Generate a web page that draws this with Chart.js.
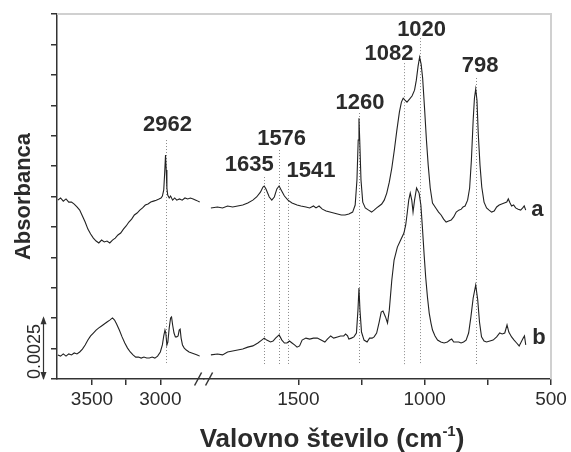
<!DOCTYPE html>
<html>
<head>
<meta charset="utf-8">
<title>IR spektra</title>
<script src="https://cdn.jsdelivr.net/npm/chart.js@4.4.0/dist/chart.umd.min.js"></script>
<style>
  html, body { margin: 0; padding: 0; background: #fff; }
  canvas { display: block; }
</style>
</head>
<body>
<canvas id="spectra" width="571" height="452"></canvas>
<script>
// absorbance in units of 0.001 (curve a is shifted up for display)

// high wavenumber region, 3750-2700 cm-1
const hiWnA = [3750, 3730, 3710, 3690, 3670, 3650, 3630, 3610, 3590, 3570, 3550, 3530, 3510, 3490, 3470, 3450, 3430, 3410, 3390, 3370, 3350, 3330, 3310, 3290, 3270, 3250, 3230, 3210, 3190, 3170, 3150, 3130, 3110, 3090, 3070, 3050, 3030, 3010, 2995, 2985, 2975, 2968, 2962, 2957, 2952, 2946, 2935, 2925, 2910, 2895, 2880, 2860, 2840, 2820, 2800, 2780, 2760, 2740, 2725, 2712];
const hiA = [7.35, 7.44, 7.31, 7.40, 7.27, 7.27, 7.19, 7.07, 6.94, 6.70, 6.45, 6.16, 5.96, 5.79, 5.67, 5.59, 5.71, 5.63, 5.67, 5.59, 5.71, 5.79, 5.92, 6.00, 6.16, 6.29, 6.45, 6.57, 6.74, 6.82, 6.94, 7.03, 7.15, 7.19, 7.27, 7.31, 7.35, 7.40, 7.44, 7.52, 7.77, 8.50, 9.20, 8.59, 7.85, 7.56, 7.44, 7.52, 7.35, 7.44, 7.35, 7.40, 7.35, 7.44, 7.40, 7.44, 7.40, 7.35, 7.31, 7.27];

const hiWnB = [3750, 3730, 3710, 3690, 3670, 3650, 3630, 3610, 3590, 3570, 3550, 3530, 3510, 3490, 3470, 3450, 3430, 3410, 3390, 3370, 3350, 3335, 3320, 3300, 3280, 3260, 3240, 3220, 3200, 3180, 3160, 3140, 3120, 3100, 3080, 3060, 3040, 3020, 3000, 2985, 2975, 2966, 2960, 2952, 2945, 2935, 2925, 2918, 2910, 2900, 2890, 2880, 2870, 2862, 2855, 2848, 2838, 2825, 2810, 2790, 2770, 2750, 2730, 2712];
const hiB = [0.99, 0.94, 1.03, 0.94, 1.03, 0.99, 1.07, 1.03, 1.11, 1.23, 1.40, 1.60, 1.77, 1.89, 2.01, 2.10, 2.18, 2.26, 2.34, 2.42, 2.51, 2.42, 2.26, 2.01, 1.73, 1.48, 1.27, 1.11, 0.99, 0.90, 0.90, 0.86, 0.90, 0.86, 0.86, 0.90, 0.86, 0.94, 1.11, 1.40, 1.77, 2.01, 1.89, 1.40, 1.52, 2.10, 2.51, 2.55, 2.22, 1.89, 1.73, 1.73, 1.77, 2.01, 2.05, 1.68, 1.40, 1.27, 1.19, 1.11, 1.07, 1.03, 0.99, 0.94];

// fingerprint region, 1846-600 cm-1
const loWnA = [1846, 1820, 1800, 1780, 1760, 1740, 1720, 1700, 1680, 1665, 1650, 1640, 1635, 1628, 1615, 1605, 1595, 1585, 1576, 1568, 1555, 1541, 1525, 1505, 1490, 1470, 1455, 1440, 1430, 1418, 1405, 1390, 1375, 1360, 1345, 1330, 1315, 1300, 1285, 1275, 1268, 1263, 1260, 1257, 1252, 1245, 1235, 1222, 1210, 1200, 1190, 1180, 1170, 1160, 1150, 1140, 1130, 1120, 1110, 1100, 1092, 1085, 1078, 1070, 1060, 1050, 1040, 1033, 1026, 1020, 1014, 1008, 1000, 993, 986, 978, 969, 956, 945, 935, 925, 915, 905, 895, 885, 875, 865, 855, 848, 840, 830, 822, 815, 808, 803, 798, 793, 788, 781, 774, 765, 755, 745, 735, 725, 715, 705, 695, 685, 675, 669, 662, 656, 648, 640, 630, 620, 612, 606, 600];
const loA = [7.03, 7.07, 7.03, 7.11, 7.07, 7.11, 7.15, 7.23, 7.35, 7.48, 7.68, 7.89, 7.93, 7.81, 7.48, 7.35, 7.48, 7.81, 7.93, 7.77, 7.52, 7.35, 7.23, 7.15, 7.11, 7.07, 7.03, 7.11, 7.03, 7.11, 6.98, 6.90, 6.86, 6.82, 6.78, 6.74, 6.74, 6.78, 6.86, 7.15, 8.18, 9.82, 10.72, 9.82, 8.18, 7.27, 7.03, 6.94, 6.86, 6.94, 7.03, 7.11, 7.19, 7.35, 7.64, 8.09, 8.67, 9.41, 10.23, 10.97, 11.38, 11.54, 11.46, 11.38, 11.50, 11.63, 11.87, 12.28, 12.86, 13.23, 12.94, 12.37, 11.05, 9.82, 8.79, 7.85, 7.23, 7.03, 6.86, 6.74, 6.57, 6.45, 6.49, 6.53, 6.66, 6.86, 6.94, 6.98, 7.07, 7.11, 7.35, 7.85, 9.00, 10.64, 11.54, 11.91, 11.46, 10.11, 8.79, 7.89, 7.27, 7.03, 6.94, 6.86, 6.90, 7.07, 7.15, 7.19, 7.23, 7.27, 7.40, 7.23, 7.11, 7.15, 7.03, 6.98, 6.94, 7.03, 7.11, 6.94];

const loWnB = [1846, 1820, 1800, 1780, 1760, 1740, 1720, 1700, 1680, 1660, 1645, 1635, 1625, 1610, 1600, 1590, 1576, 1565, 1555, 1545, 1535, 1525, 1515, 1505, 1495, 1485, 1470, 1455, 1440, 1425, 1410, 1395, 1385, 1372, 1360, 1345, 1333, 1320, 1313, 1305, 1300, 1290, 1280, 1270, 1264, 1260, 1256, 1250, 1240, 1228, 1218, 1208, 1200, 1190, 1180, 1172, 1165, 1155, 1147, 1140, 1130, 1121, 1108, 1095, 1082, 1075, 1069, 1063, 1057, 1051, 1046, 1040, 1032, 1022, 1015, 1009, 1002, 996, 989, 982, 975, 969, 959, 949, 936, 923, 910, 900, 893, 885, 875, 865, 856, 846, 836, 826, 817, 808, 798, 790, 783, 775, 765, 755, 742, 729, 715, 703, 693, 683, 674, 667, 656, 646, 636, 626, 618, 610, 605, 600];
const loB = [0.99, 1.03, 0.99, 1.11, 1.15, 1.19, 1.23, 1.31, 1.36, 1.48, 1.60, 1.68, 1.60, 1.52, 1.56, 1.68, 1.81, 1.60, 1.48, 1.48, 1.56, 1.48, 1.40, 1.31, 1.36, 1.60, 1.68, 1.64, 1.68, 1.68, 1.60, 1.52, 1.64, 1.77, 1.68, 1.73, 1.77, 1.77, 1.85, 1.77, 1.64, 1.68, 1.73, 1.89, 2.83, 3.74, 2.83, 1.93, 1.60, 1.52, 1.68, 1.68, 1.73, 1.89, 2.34, 2.75, 2.79, 2.55, 2.30, 2.83, 4.07, 4.89, 5.42, 5.71, 6.00, 6.33, 6.82, 7.35, 7.64, 7.35, 6.86, 7.35, 7.85, 7.64, 7.15, 6.24, 5.09, 4.19, 3.37, 2.71, 2.30, 2.01, 1.77, 1.60, 1.52, 1.48, 1.52, 1.60, 1.64, 1.52, 1.52, 1.52, 1.48, 1.52, 1.60, 1.89, 2.55, 3.33, 3.86, 3.25, 2.34, 1.73, 1.56, 1.52, 1.56, 1.60, 1.73, 1.89, 1.85, 1.89, 2.22, 1.93, 1.73, 1.60, 1.48, 1.36, 1.52, 1.68, 1.77, 1.40];

// marked bands
const peakWn = [2962, 1635, 1576, 1541, 1260, 1082, 1020, 798];
const peakLineTop = [9.82, 8.30, 9.41, 8.18, 10.93, 12.98, 14.01, 12.37];
const peakLineBottom = 0.6;

// axis ticks
const yStep = 1.25;
const hiRange = [2680, 3756];
const loRange = [500, 1873];
const xStep = 250;
const labelledEvery = 500;
const hiddenTick = 2750;

const INK = '#2b2b2b';
const FONT = '"Liberation Sans", Arial, Helvetica, sans-serif';

// px per cm-1 in each part of the broken axis
const hiDensity = 0.1367;
const loDensity = 0.2527;

// label placement next to each dotted line: x nudge in px, y in data units
const peakLabelPlace = [
  { dx: 2, y: 10.44 }, { dx: -15, y: 8.79 }, { dx: 2.5, y: 9.86 }, { dx: 23, y: 8.53 },
  { dx: 1, y: 11.34 }, { dx: -15, y: 13.35 }, { dx: 2, y: 14.34 }, { dx: 4.5, y: 12.86 }
];
const curveTags = [
  { text: 'a', wn: 554, y: 6.94 },
  { text: 'b', wn: 548, y: 1.68 }
];

function toPoints(xs, ys) {
  return xs.map((x, i) => ({ x: x, y: ys[i] }));
}

function wnPixel(chart, wn) {
  const s = wn > 2000 ? chart.scales.xHi : chart.scales.xLo;
  return s.getPixelForValue(wn);
}

const decorations = {
  id: 'decorations',
  beforeDatasetsDraw(chart) {
    const ctx = chart.ctx;
    const y = chart.scales.y;
    ctx.save();
    ctx.strokeStyle = '#8a8a8a';
    ctx.lineWidth = 1;
    ctx.setLineDash([1, 2]);
    peakWn.forEach((wn, i) => {
      const px = Math.round(wnPixel(chart, wn)) + 0.5;
      ctx.beginPath();
      ctx.moveTo(px, y.getPixelForValue(peakLineTop[i]));
      ctx.lineTo(px, y.getPixelForValue(peakLineBottom));
      ctx.stroke();
    });
    ctx.restore();
  },
  afterDraw(chart) {
    const ctx = chart.ctx;
    const area = chart.chartArea;
    const y = chart.scales.y;
    ctx.save();

    // light frame on top and right
    ctx.strokeStyle = '#d0d0d0';
    ctx.lineWidth = 2;
    ctx.beginPath();
    ctx.moveTo(area.left, area.top);
    ctx.lineTo(area.right, area.top);
    ctx.lineTo(area.right, area.bottom);
    ctx.stroke();

    // band labels
    ctx.fillStyle = INK;
    ctx.font = 'bold 22px ' + FONT;
    ctx.textAlign = 'center';
    ctx.textBaseline = 'middle';
    peakWn.forEach((wn, i) => {
      const p = peakLabelPlace[i];
      ctx.fillText(String(wn), wnPixel(chart, wn) + p.dx, y.getPixelForValue(p.y));
    });
    curveTags.forEach(t => {
      ctx.fillText(t.text, wnPixel(chart, t.wn), y.getPixelForValue(t.y));
    });

    // axis break
    const bx = chart.scales.xHi.right;
    const by = area.bottom;
    ctx.strokeStyle = '#333';
    ctx.lineWidth = 1.5;
    [-6, 5].forEach(off => {
      ctx.beginPath();
      ctx.moveTo(bx + off - 3.5, by + 6.5);
      ctx.lineTo(bx + off + 3.5, by - 6.5);
      ctx.stroke();
    });

    // absorbance scale bar
    const x0 = 43.5;
    const yb = y.getPixelForValue(0);
    const yt = y.getPixelForValue(2 * yStep);
    ctx.lineWidth = 1.2;
    ctx.beginPath();
    ctx.moveTo(x0, yt);
    ctx.lineTo(x0, yb);
    ctx.stroke();
    ctx.fillStyle = '#333';
    ctx.beginPath();
    ctx.moveTo(x0, yt - 2); ctx.lineTo(x0 - 3, yt + 6); ctx.lineTo(x0 + 3, yt + 6);
    ctx.closePath(); ctx.fill();
    ctx.beginPath();
    ctx.moveTo(x0, yb + 1); ctx.lineTo(x0 - 3, yb - 7); ctx.lineTo(x0 + 3, yb - 7);
    ctx.closePath(); ctx.fill();
    ctx.save();
    ctx.translate(35, (yb + yt) / 2 + 3);
    ctx.rotate(-Math.PI / 2);
    ctx.font = '18px ' + FONT;
    ctx.fillStyle = INK;
    ctx.fillText('0.0025', 0, 0);
    ctx.restore();

    // x axis title with superscript
    const main = 'Valovno število (cm';
    const sup = '-1';
    const close = ')';
    ctx.textAlign = 'left';
    ctx.textBaseline = 'alphabetic';
    ctx.font = 'bold 26px ' + FONT;
    const w1 = ctx.measureText(main).width;
    const w3 = ctx.measureText(close).width;
    ctx.font = 'bold 15px ' + FONT;
    const w2 = ctx.measureText(sup).width;
    const cx = 332;
    const base = 447;
    let tx = cx - (w1 + w2 + w3) / 2;
    ctx.fillStyle = INK;
    ctx.font = 'bold 26px ' + FONT;
    ctx.fillText(main, tx, base);
    tx += w1;
    ctx.font = 'bold 15px ' + FONT;
    ctx.fillText(sup, tx, base - 11);
    tx += w2;
    ctx.font = 'bold 26px ' + FONT;
    ctx.fillText(close, tx, base);

    ctx.restore();
  }
};

// tick marks only on the regular 250 cm-1 grid; the range ends get none
function tickShown(tick) {
  return tick && tick.value % xStep === 0 && tick.value !== hiddenTick;
}

function xAxis(range, density) {
  return {
    type: 'linear',
    position: 'bottom',
    stack: 'wavenumber',
    stackWeight: (range[1] - range[0]) * density,
    reverse: true,
    min: range[0],
    max: range[1],
    border: { display: true, color: '#333', width: 1.5 },
    grid: {
      drawOnChartArea: false,
      drawTicks: true,
      tickLength: 6,
      lineWidth: 1.5,
      color: '#333',
      tickColor: c => (tickShown(c.tick) ? '#333' : 'rgba(0,0,0,0)')
    },
    ticks: {
      stepSize: xStep,
      autoSkip: false,
      maxRotation: 0,
      padding: 3,
      color: INK,
      font: { family: FONT, size: 19 },
      callback: function (v) {
        return v % labelledEvery === 0 ? String(v) : '';
      }
    },
    afterFit: s => { s.height = 73; }
  };
}

function spectrum(label, xs, ys, axis) {
  return {
    label: label,
    data: toPoints(xs, ys),
    xAxisID: axis,
    showLine: true,
    borderColor: '#222',
    borderWidth: 1.1,
    pointRadius: 0,
    fill: false
  };
}

new Chart(document.getElementById('spectra'), {
  type: 'scatter',
  data: {
    datasets: [
      spectrum('a', hiWnA, hiA, 'xHi'),
      spectrum('b', hiWnB, hiB, 'xHi'),
      spectrum('a', loWnA, loA, 'xLo'),
      spectrum('b', loWnB, loB, 'xLo')
    ]
  },
  options: {
    responsive: false,
    animation: false,
    layout: { padding: { top: 14, right: 20, bottom: 0, left: 0 } },
    plugins: { legend: { display: false }, tooltip: { enabled: false } },
    scales: {
      xHi: xAxis(hiRange, hiDensity),
      xLo: xAxis(loRange, loDensity),
      y: {
        type: 'linear',
        position: 'left',
        min: 0,
        max: 12 * yStep,
        border: { display: true, color: '#333', width: 1.5 },
        grid: { drawOnChartArea: false, drawTicks: true, tickLength: 6, color: '#333', lineWidth: 1.5 },
        ticks: { stepSize: yStep, display: false },
        title: {
          display: true,
          text: 'Absorbanca',
          color: INK,
          font: { family: FONT, size: 22, weight: 'bold' },
          padding: { top: 11, bottom: 0 }
        },
        afterFit: s => { s.width = 57; }
      }
    }
  },
  plugins: [decorations]
});
</script>
</body>
</html>
